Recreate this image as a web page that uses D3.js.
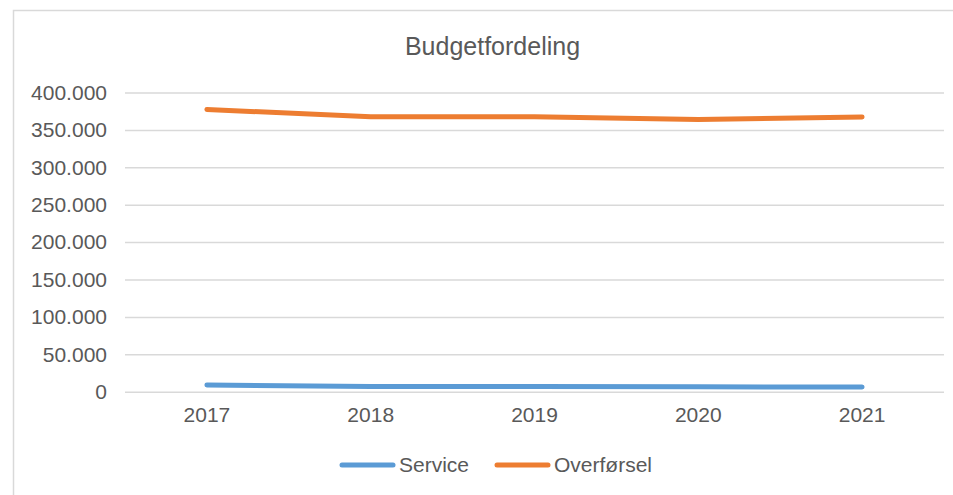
<!DOCTYPE html>
<html><head><meta charset="utf-8">
<script src="https://cdn.jsdelivr.net/npm/d3@7"></script>
<style>html,body{margin:0;padding:0;background:#fff;overflow:hidden}</style>
</head><body>
<svg id="chart" width="953" height="495"></svg>
<script>
const categories = ["2017", "2018", "2019", "2020", "2021"];
const serviceValues = [9000, 7000, 7000, 6500, 6300];
const overforselValues = [377300, 367500, 367500, 364000, 367200];
const yTicks = [0, 50000, 100000, 150000, 200000, 250000, 300000, 350000, 400000];
const seriesNames = ["Service", "Overførsel"];
const seriesColors = ["#5B9BD5", "#ED7D31"];
const chartTitle = "Budgetfordeling";

const series = [
  {name: seriesNames[0], values: serviceValues, color: seriesColors[0]},
  {name: seriesNames[1], values: overforselValues, color: seriesColors[1]}
];

const svg = d3.select("#chart");
const font = "'Liberation Sans', Arial, sans-serif";
const textColor = "#595959";

// chart frame
svg.append("rect").attr("x", 13.5).attr("y", 10.5).attr("width", 960).attr("height", 500)
  .attr("fill", "#fff").attr("stroke", "#d9d9d9").attr("stroke-width", 1.5);

const plotLeft = 125, plotRight = 944, plotTop = 92.5, plotBottom = 391.7;
const x = d3.scaleBand().domain(categories).range([plotLeft, plotRight]);
const y = d3.scaleLinear().domain([0, 400000]).range([plotBottom, plotTop]);

// title
svg.append("text").attr("x", 492.5).attr("y", 55).attr("text-anchor", "middle")
  .attr("font-family", font).attr("font-size", 25).attr("fill", textColor).text(chartTitle);

// gridlines + y labels
const yAxis = d3.axisLeft(y).tickValues(yTicks).tickSize(-(plotRight - plotLeft)).tickPadding(18)
  .tickFormat(d => d === 0 ? "0" : d3.format(",")(d).replace(/,/g, "."));
const gy = svg.append("g").attr("transform", `translate(${plotLeft},0)`).call(yAxis);
gy.select(".domain").remove();
gy.selectAll(".tick line").attr("stroke", "#d9d9d9").attr("stroke-width", 1.5);
gy.selectAll(".tick text").attr("font-family", font).attr("font-size", 21).attr("fill", textColor);

// x axis labels
const xAxis = d3.axisBottom(x).tickSize(0).tickPadding(15);
const gx = svg.append("g").attr("transform", `translate(0,${plotBottom})`).call(xAxis);
gx.select(".domain").remove();
gx.selectAll(".tick text").attr("font-family", font).attr("font-size", 21).attr("fill", textColor);

// lines
const line = d3.line().x((d, i) => x(categories[i]) + x.bandwidth() / 2).y(d => y(d));
series.forEach(s => {
  svg.append("path").datum(s.values).attr("d", line).attr("fill", "none")
    .attr("stroke", s.color).attr("stroke-width", 5)
    .attr("stroke-linecap", "round").attr("stroke-linejoin", "round");
});

// legend
const legendItems = [{x: 342, tx: 399}, {x: 497, tx: 554}];
series.forEach((s, i) => {
  const it = legendItems[i];
  svg.append("line").attr("x1", it.x).attr("x2", it.x + 51).attr("y1", 465).attr("y2", 465)
    .attr("stroke", s.color).attr("stroke-width", 5).attr("stroke-linecap", "round");
  svg.append("text").attr("x", it.tx).attr("y", 472).attr("font-family", font).attr("font-size", 21)
    .attr("fill", textColor).text(s.name);
});
</script>
</body></html>
